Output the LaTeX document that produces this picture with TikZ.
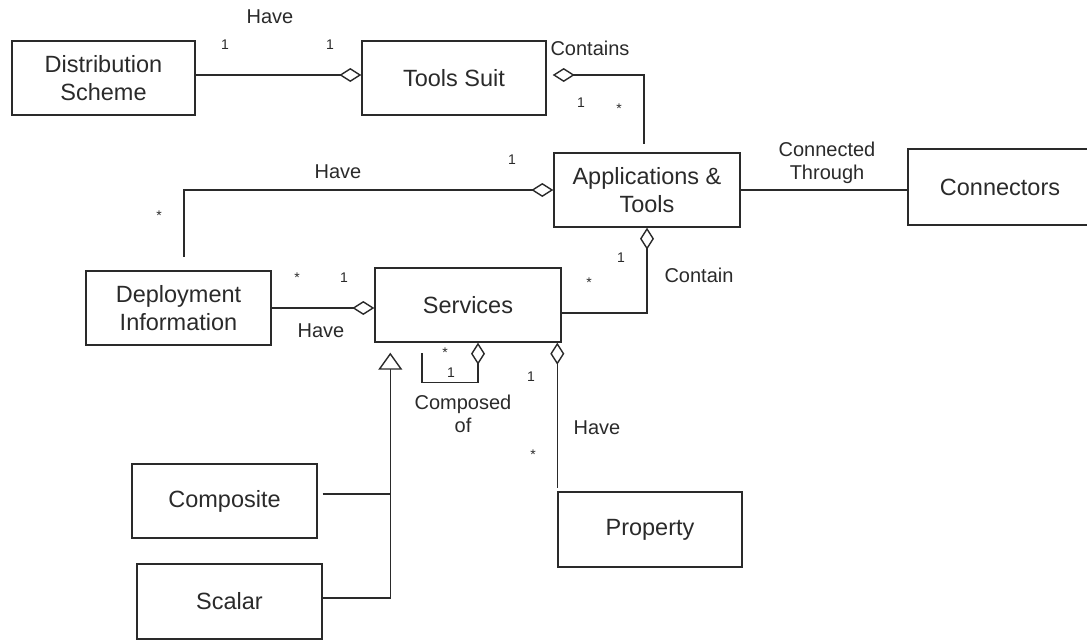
\documentclass[tikz,border=0pt]{standalone}
\usepackage{fontspec}
\setmainfont{Liberation Sans}
\usetikzlibrary{arrows.meta,calc}
\definecolor{ink}{HTML}{2A2A2A}
\begin{document}
\begin{tikzpicture}[x=1pt,y=-1pt,
  box/.style={draw=ink,line width=1.4pt,rectangle,inner sep=0pt,align=center,
    text=ink,font=\fontsize{23.5}{28.5}\selectfont},
  lbl/.style={text=ink,inner sep=0pt,align=center,font=\fontsize{20}{23}\selectfont},
  mult/.style={text=ink,inner sep=0pt,font=\fontsize{14}{16}\selectfont},
  link/.style={draw=ink,line width=1.4pt},
  agg/.style={link,-{Diamond[fill=white,length=22pt,width=14pt]}},
  aggs/.style={link,{Diamond[fill=white,length=22pt,width=14pt]}-},
  isa/.style={link,-{Triangle[fill=white,length=17pt,width=24pt]}}
]
\useasboundingbox (0,0) rectangle (1087,640);

% classes
\node[box,minimum width=183pt,minimum height=74pt] (dist) at (103.5,78) {Distribution\\Scheme};
\node[box,minimum width=184pt,minimum height=74pt] (suit) at (454,78) {Tools Suit};
\node[box,minimum width=186pt,minimum height=74pt] (apps) at (647,190) {Applications \&\\Tools};
\node[box,minimum width=184pt,minimum height=76pt] (conn) at (1000,187) {Connectors};
\node[box,minimum width=185pt,minimum height=74pt] (depl) at (178.5,308) {Deployment\\Information};
\node[box,minimum width=186pt,minimum height=74pt] (serv) at (468,305) {Services};
\node[box,minimum width=185pt,minimum height=74pt] (comp) at (224.5,501) {Composite};
\node[box,minimum width=185pt,minimum height=75pt] (scal) at (229.5,601.5) {Scalar};
\node[box,minimum width=184pt,minimum height=75pt] (prop) at (650,529.5) {Property};

% associations
\draw[agg] ($(dist.east)+(0,-3)$) -- ($(suit.west)+(0,-3)$);
\draw[aggs] ($(suit.east)+(6,-3)$) -| ($(apps.north)+(-3,-8)$);
\draw[aggs] (apps.west) -| ($(depl.north)+(5.5,-13)$);
\draw[link] (apps.east) -- (apps.east -| conn.west);
\draw[agg] (depl.east) -- (depl.east -| serv.west);
\draw[aggs] (apps.south) |- ($(serv.east)+(0,8)$);
\draw[aggs] ($(serv.south)+(10,0)$) -- ++(0,40) -| ($(serv.south)+(-46,10)$);
\draw[aggs] (prop.north west |- serv.south) -- ($(prop.north west)+(0,-3)$);

% generalization
\coordinate (gen) at ($(serv.south west)+(16,10)$);
\coordinate (cj) at ($(comp.east)+(5,-7)$);
\draw[isa] ($(scal.east)+(0,-3.5)$) -| (gen);
\draw[link] (cj) -- (cj -| gen);

% association names
\node[lbl] (hv1) at (270,17) {Have};
\node[lbl] (cts) at (590,48) {Contains};
\node[lbl] (hv2) at (338,172) {Have};
\node[lbl] (ctt) at (827,163) {Connected\\Through};
\node[lbl] (hv3) at (321,331) {Have};
\node[lbl] (cnt) at (699,275) {Contain};
\node[lbl] (cmp) at (463,414) {Composed\\of};
\node[lbl] (hv4) at (597,428) {Have};

% multiplicities
\node[mult] (m1) at (225,45) {1};
\node[mult] (m2) at (330,45) {1};
\node[mult] (m3) at (581,103) {1};
\node[mult] (m4) at (619,109) {*};
\node[mult] (m5) at (512,160) {1};
\node[mult] (m6) at (159,216) {*};
\node[mult] (m7) at (297,278) {*};
\node[mult] (m8) at (344,278) {1};
\node[mult] (m9) at (621,258) {1};
\node[mult] (m10) at (589,283) {*};
\node[mult] (m11) at (445,353) {*};
\node[mult] (m12) at (451,373) {1};
\node[mult] (m13) at (531,377) {1};
\node[mult] (m14) at (533,455) {*};
\end{tikzpicture}
\end{document}
